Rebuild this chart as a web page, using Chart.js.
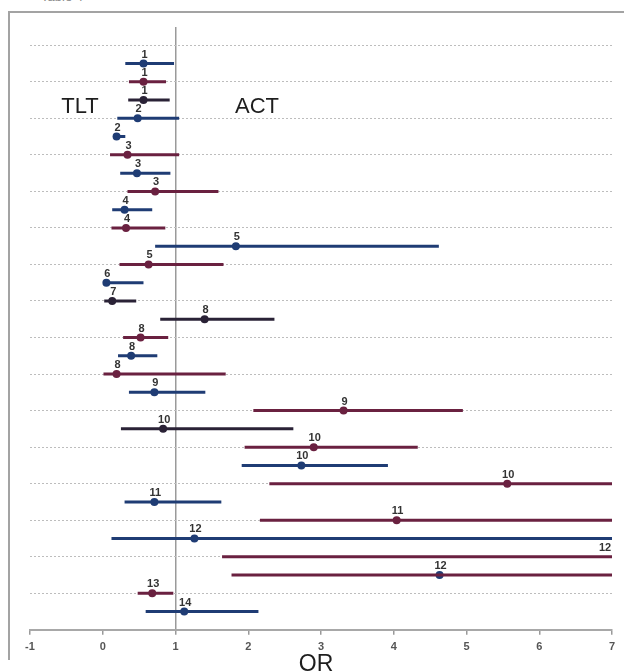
<!DOCTYPE html>
<html lang="en">
<head>
  <meta charset="UTF-8">
  <script src="https://cdn.jsdelivr.net/npm/chart.js@4/dist/chart.umd.min.js"></script>
  <title>Forest plot</title>
  <style>
    body { margin: 0; overflow: hidden; background: #fff; }
    #wrap { position: relative; width: 624px; height: 671px; overflow: hidden; }
    #frame { position: absolute; left: 8px; top: 11px; width: 700px; height: 647px;
             border-left: 2px solid #a3a3a3; border-top: 2px solid #a3a3a3; }
    #chart { position: absolute; left: 0; top: 0; }
    .txt { position: absolute; font-family: "Liberation Sans", Arial, sans-serif; color: #1e1e1e;
           transform: translate(-50%, -50%); white-space: nowrap; }
  </style>
</head>
<body>
  <div id="wrap">
    <div class="txt" style="left:62px; top:-4px; font-size:13px; color:#888;">Table 4</div>
    <div id="frame"></div>
    <canvas id="chart" width="624" height="671"></canvas>
    <div class="txt" style="left:80px; top:106px; font-size:22px;">TLT</div>
    <div class="txt" style="left:257px; top:106px; font-size:22px;">ACT</div>
    <div class="txt" style="left:316px; top:663px; font-size:23px;">OR</div>
  </div>
  <script>
    // study number, odds ratio and CI (top row first)
    const studies = [1, 1, 1, 2, 2, 3, 3, 3, 4, 4, 5, 5, 6, 7, 8, 8, 8, 8, 9, 9, 10, 10, 10, 10, 11, 11, 12, 12, 12, 13, 14];
    const oddsRatio = [0.56, 0.56, 0.56, 0.48, 0.19, 0.34, 0.47, 0.72, 0.30, 0.32, 1.83, 0.63, 0.05, 0.13, 1.40, 0.52, 0.39, 0.19, 0.71, 3.31, 0.83, 2.90, 2.73, 5.56, 0.71, 4.04, 1.26, 7.6, 4.63, 0.68, 1.12];
    const lower = [0.31, 0.36, 0.35, 0.20, 0.18, 0.10, 0.24, 0.34, 0.13, 0.12, 0.72, 0.23, 0.05, 0.02, 0.79, 0.28, 0.21, 0.01, 0.36, 2.07, 0.25, 1.95, 1.91, 2.29, 0.30, 2.16, 0.12, 1.64, 1.77, 0.48, 0.59];
    const upper = [0.98, 0.87, 0.92, 1.05, 0.31, 1.05, 0.93, 1.59, 0.68, 0.86, 4.62, 1.66, 0.56, 0.46, 2.36, 0.90, 0.75, 1.69, 1.41, 4.95, 2.62, 4.33, 3.92, 9.5, 1.63, 8.6, 9.8, 9.0, 9.2, 0.97, 2.14];
    const lineGroup = ['b', 'm', 'd', 'b', 'b', 'm', 'b', 'm', 'b', 'm', 'b', 'm', 'b', 'd', 'd', 'm', 'b', 'm', 'b', 'm', 'd', 'm', 'b', 'm', 'b', 'm', 'b', 'm', 'm', 'm', 'b'];
    const dotGroup = ['b', 'm', 'd', 'b', 'b', 'm', 'b', 'm', 'b', 'm', 'b', 'm', 'b', 'd', 'd', 'm', 'b', 'm', 'b', 'm', 'd', 'm', 'b', 'm', 'b', 'm', 'b', 'm', 'b', 'm', 'b'];
    const xTicks = [-1, 0, 1, 2, 3, 4, 5, 6, 7];

    const colors = { b: '#1f3c74', m: '#6a2140', d: '#2a2236' };

    const datasets = [];
    studies.forEach((s, i) => {
      datasets.push({
        type: 'line',
        data: [{ x: lower[i], y: i + 1 }, { x: upper[i], y: i + 1 }],
        borderColor: colors[lineGroup[i]],
        borderWidth: 3,
        pointRadius: 0,
        clip: 0
      });
    });
    datasets.push({
      type: 'scatter',
      data: oddsRatio.map((v, i) => ({ x: v, y: i + 1 })),
      pointRadius: 4,
      pointHoverRadius: 4,
      pointBackgroundColor: dotGroup.map(g => colors[g]),
      pointBorderWidth: 0,
      clip: 0
    });

    const studyLabels = {
      id: 'studyLabels',
      afterDatasetsDraw(chart) {
        const { ctx, scales: { x, y } } = chart;
        ctx.save();
        ctx.font = 'bold 11px "Liberation Sans", Arial, sans-serif';
        ctx.fillStyle = '#333';
        ctx.textAlign = 'center';
        ctx.textBaseline = 'middle';
        studies.forEach((s, i) => {
          let px = x.getPixelForValue(oddsRatio[i]);
          px = Math.min(px, x.right - 8);
          ctx.fillText(String(s), px + 1, y.getPixelForValue(i + 1) - 9);
        });
        ctx.restore();
      }
    };

    new Chart(document.getElementById('chart'), {
      type: 'scatter',
      data: { datasets },
      options: {
        responsive: false,
        animation: false,
        layout: { padding: { left: 30, right: 12, top: 27, bottom: 11 } },
        plugins: { legend: { display: false }, tooltip: { enabled: false } },
        scales: {
          x: {
            type: 'linear',
            min: -1,
            max: 7,
            afterBuildTicks: axis => { axis.ticks = xTicks.map(v => ({ value: v })); },
            grid: {
              color: ctx => ctx.tick && ctx.tick.value === 1 ? '#9a9a9a' : 'rgba(0,0,0,0)',
              lineWidth: 1.5,
              tickColor: '#9a9a9a',
              tickLength: 5
            },
            border: { display: true, color: '#a8a8a8', width: 2 },
            ticks: {
              padding: 6,
              color: '#555',
              font: { family: '"Liberation Sans", Arial, sans-serif', size: 11, weight: 'bold' }
            }
          },
          y: {
            type: 'linear',
            min: -1,
            max: 32,
            reverse: true,
            afterBuildTicks: axis => {
              const t = [];
              for (let v = 0; v <= 30; v += 2) t.push({ value: v });
              axis.ticks = t;
            },
            grid: { color: '#bdbdbd', lineWidth: 1, drawTicks: false },
            border: { display: false, dash: [2, 2] },
            ticks: { display: false }
          }
        }
      },
      plugins: [studyLabels]
    });
  </script>
</body>
</html>
